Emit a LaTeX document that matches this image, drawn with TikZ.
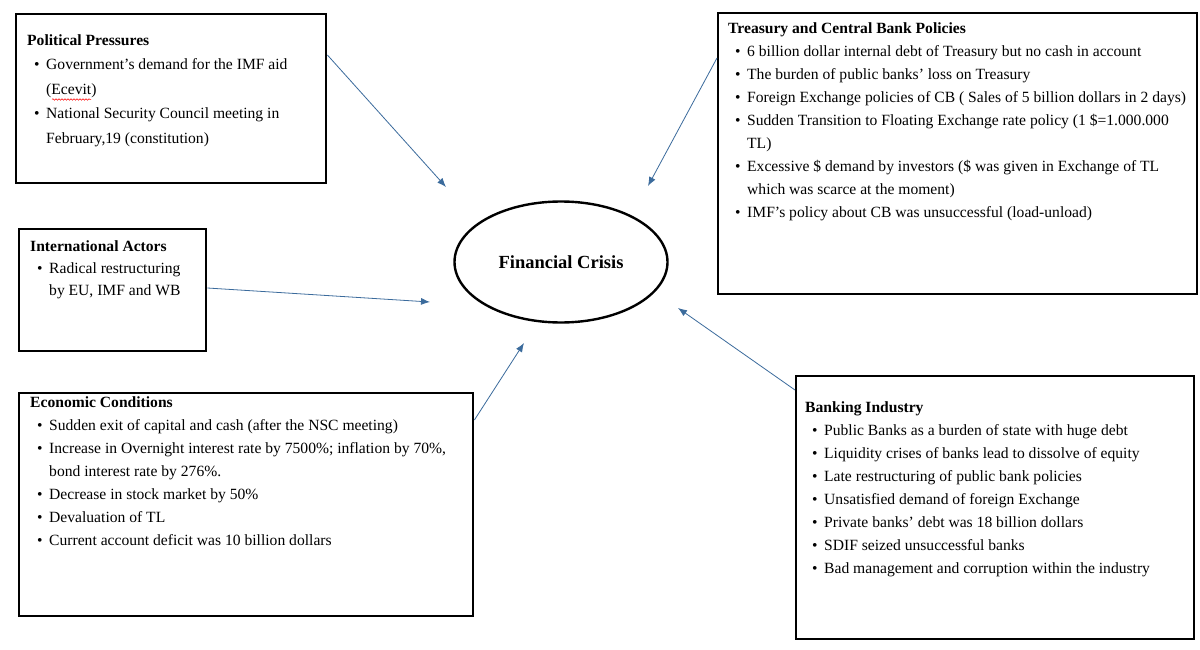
\documentclass[tikz,border=0pt]{standalone}
\usepackage{fontspec}
\setmainfont{Liberation Serif}
\usetikzlibrary{arrows.meta,shapes.geometric,decorations.pathmorphing}
\definecolor{arrowblue}{HTML}{3B6B9C}
\newcommand\bu{\hspace*{7pt}\textbullet}
\newenvironment{blist}[1][23]{\fontsize{15.6}{#1}\selectfont\begin{tabular}{@{}p{19pt}@{}l@{}}}{\end{tabular}}
\newcommand\btitle[1]{\multicolumn{2}{@{}l@{}}{\textbf{#1}}}
\begin{document}
\begin{tikzpicture}[x=1pt,y=-1pt,
  box/.style={draw, line width=2.4pt, inner sep=0pt, anchor=north west},
  txt/.style={anchor=north west, inner sep=0pt},
  arr/.style={draw=arrowblue, line width=0.8pt, -{Latex[length=9pt,width=7pt]}}]
\useasboundingbox[fill=white] (0,0) rectangle (1200,650);

% boxes
\node[box, minimum width=310pt, minimum height=169pt] (pp) at (15,13) {};
\node[box, minimum width=479pt, minimum height=281pt] (tb) at (717,12) {};
\node[box, minimum width=187pt, minimum height=122pt] (ia) at (18,228) {};
\node[box, minimum width=454pt, minimum height=223pt] (ec) at (18,392) {};
\node[box, minimum width=398pt, minimum height=263pt] (bi) at (795,375) {};
\node[draw, ellipse, line width=2.4pt, minimum width=213pt, minimum height=121pt, inner sep=0pt,
      font=\fontsize{18.5}{22}\selectfont\bfseries] (fc) at (561,262) {Financial Crisis};

% texts
\node[txt] (ppt) at (27,28) {\begin{blist}[24.5]
\btitle{Political Pressures}\\
\bu & Government’s demand for the IMF aid\\
    & (Ecevit)\\
\bu & National Security Council meeting in\\
    & February,19 (constitution)
\end{blist}};

\node[txt] (tbt) at (728,17) {\begin{blist}
\btitle{Treasury and Central Bank Policies}\\
\bu & 6 billion dollar internal debt of Treasury but no cash in account\\
\bu & The burden of public banks’ loss on Treasury\\
\bu & Foreign Exchange policies of CB ( Sales of 5 billion dollars in 2 days)\\
\bu & Sudden Transition to Floating Exchange rate policy (1 \$=1.000.000\\
    & TL)\\
\bu & Excessive \$ demand by investors (\$ was given in Exchange of TL\\
    & which was scarce at the moment)\\
\bu & IMF’s policy about CB was unsuccessful (load-unload)
\end{blist}};

\node[txt] (iat) at (30,235.5) {\begin{blist}[22]
\btitle{International Actors}\\
\bu & Radical restructuring\\
    & by EU, IMF and WB
\end{blist}};

\node[txt] (ect) at (30,391) {\begin{blist}
\btitle{Economic Conditions}\\
\bu & Sudden exit of capital and cash (after the NSC meeting)\\
\bu & Increase in Overnight interest rate by 7500\%; inflation by 70\%,\\
    & bond interest rate by 276\%.\\
\bu & Decrease in stock market by 50\%\\
\bu & Devaluation of TL\\
\bu & Current account deficit was 10 billion dollars
\end{blist}};

\node[txt] (bit) at (805,396) {\begin{blist}
\btitle{Banking Industry}\\
\bu & Public Banks as a burden of state with huge debt\\
\bu & Liquidity crises of banks lead to dissolve of equity\\
\bu & Late restructuring of public bank policies\\
\bu & Unsatisfied demand of foreign Exchange\\
\bu & Private banks’ debt was 18 billion dollars\\
\bu & SDIF seized unsuccessful banks\\
\bu & Bad management and corruption within the industry
\end{blist}};

% spell-check squiggle under "Ecevit"
\coordinate (sq1) at (52,99.5);
\coordinate (sq2) at (91,99.5);
\draw[red, line width=0.5pt, decorate, decoration={snake, amplitude=0.8pt, segment length=3pt}] (sq1) -- (sq2);

% free arrow ends
\coordinate (e1) at (446,187);
\coordinate (e2) at (648,186);
\coordinate (e3) at (430,302);
\coordinate (e4) at (524,343);
\coordinate (e5) at (678,308);

\draw[arr] ([yshift=-42pt]pp.north east) -- (e1);
\draw[arr] ([yshift=-46pt]tb.north west) -- (e2);
\draw[arr] ([yshift=-60pt]ia.north east) -- (e3);
\draw[arr] ([yshift=-28pt]ec.north east) -- (e4);
\draw[arr] ([yshift=-15pt]bi.north west) -- (e5);
\end{tikzpicture}
\end{document}
